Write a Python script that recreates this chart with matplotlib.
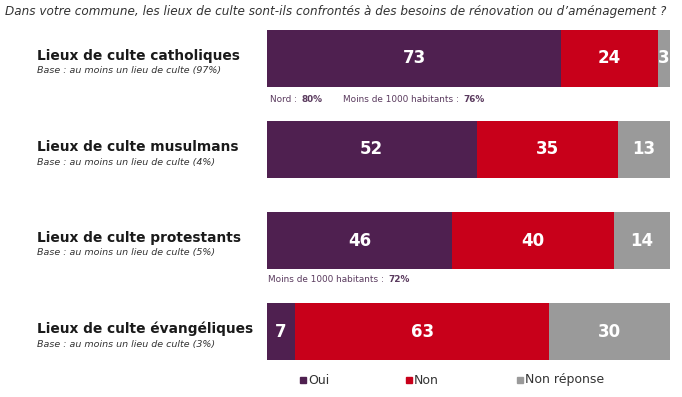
import matplotlib
matplotlib.use("Agg")
import matplotlib.pyplot as plt
from matplotlib.patches import Rectangle

categories = ["Lieux de culte catholiques", "Lieux de culte musulmans",
              "Lieux de culte protestants", "Lieux de culte évangéliques"]
bases = [97, 4, 5, 3]
oui = [73, 52, 46, 7]
non = [24, 35, 40, 63]
nr = [3, 13, 14, 30]
series_names = ["Oui", "Non", "Non réponse"]
colors = ["#4F2050", "#C8001A", "#9A9A9A"]
title = "Dans votre commune, les lieux de culte sont-ils confrontés à des besoins de rénovation ou d\u2019aménagement ?"

W, H = 682, 397
fig = plt.figure(figsize=(W / 100, H / 100), dpi=100)
fig.patch.set_facecolor("white")

def fy(py):
    return 1 - py / H

def fx(px):
    return px / W

ax = fig.add_axes([fx(267), fy(360), fx(670) - fx(267), (360 - 30) / H])
ax.set_xlim(0, 100)
ax.set_ylim(3.313, -0.313)
ax.axis("off")

bh = 57 / 91
ys = list(range(len(categories)))
left = [0] * len(categories)
for vals, c in zip([oui, non, nr], colors):
    ax.barh(ys, vals, left=left, height=bh, color=c, edgecolor="none")
    for y, v, l in zip(ys, vals, left):
        xc = l + v / 2
        t = ax.text(xc, y, str(v), color="white", fontsize=12, fontweight="bold",
                    ha="center", va="center")
        if v < 5:
            t.set_clip_on(True)
    left = [l + v for l, v in zip(left, vals)]

fig.text(fx(5), fy(11), title, fontsize=8.65, style="italic", color="#333333",
         ha="left", va="center")

for i, (cat, b) in enumerate(zip(categories, bases)):
    cy = 59 + i * 91
    fig.text(fx(37), fy(cy - 3), cat, fontsize=9.9, fontweight="bold",
             color="#1a1a1a", ha="left", va="center")
    fig.text(fx(37), fy(cy + 12), f"Base : au moins un lieu de culte ({b}%)",
             fontsize=6.8, style="italic", color="#333333", ha="left", va="center")

note_color = "#5A3A5E"
def note(px, py, label, val):
    t = fig.text(fx(px), fy(py), label, fontsize=6.4, color=note_color,
                 ha="left", va="center")
    fig.canvas.draw()
    bb = t.get_window_extent()
    fig.text(bb.x1 / W + 0.002, fy(py), val, fontsize=6.4, fontweight="bold",
             color=note_color, ha="left", va="center")

note(270, 99, "Nord : ", "80%")
note(343, 99, "Moins de 1000 habitants : ", "76%")
note(268, 280, "Moins de 1000 habitants : ", "72%")

legend_x = [300, 406, 517]
for name, c, lx in zip(series_names, colors, legend_x):
    fig.patches.append(Rectangle((fx(lx), fy(383)), 6 / W, 6 / H, color=c,
                                 transform=fig.transFigure, figure=fig))
    fig.text(fx(lx + 8), fy(380), name, fontsize=9, color="#333333",
             ha="left", va="center")

fig.savefig("out.png", dpi=100, facecolor="white")
